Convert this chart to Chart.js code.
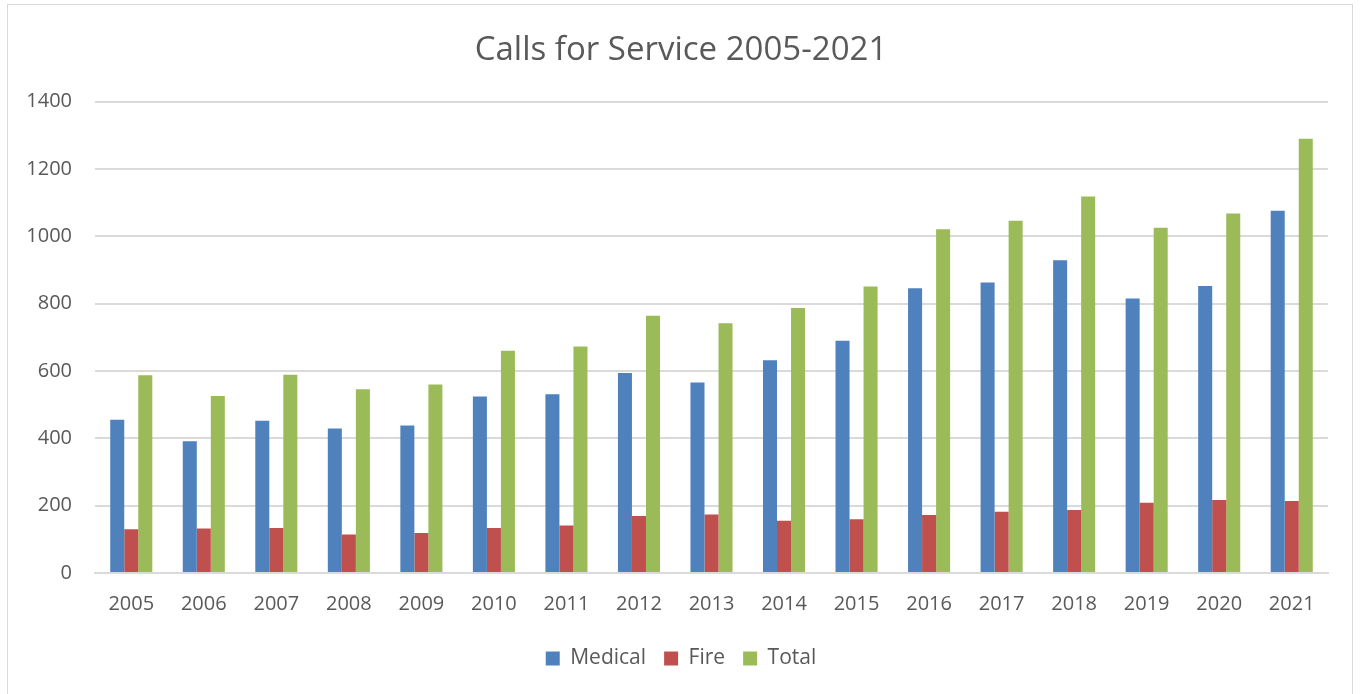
<!DOCTYPE html>
<html>
<head>
<meta charset="utf-8">
<script src="https://cdn.jsdelivr.net/npm/chart.js@4"></script>
<style>
  body { margin: 0; background: #fff; }
  #wrap { position: relative; width: 1360px; height: 694px; }
  #frame { position: absolute; left: 7px; top: 4px; width: 1346px; height: 700px; border: 1px solid #d9d9d9; box-sizing: border-box; }
  canvas { position: absolute; left: 0; top: 0; }
</style>
</head>
<body>
<div id="wrap">
  <div id="frame"></div>
  <canvas id="chart" width="1360" height="694"></canvas>
</div>
<script>
// data
const years = ['2005', '2006', '2007', '2008', '2009', '2010', '2011', '2012', '2013',
  '2014', '2015', '2016', '2017', '2018', '2019', '2020', '2021'];
const medical = [455, 391, 452, 429, 438, 524, 531, 594, 566, 632, 690, 846, 863, 929, 815, 852, 1076];
const fire = [130, 132, 134, 114, 119, 134, 141, 169, 174, 155, 160, 172, 182, 187, 209, 217, 214];
const total = [587, 526, 589, 546, 560, 660, 673, 764, 742, 787, 851, 1021, 1046, 1118, 1025, 1068, 1290];

const FONT = "'Open Sans', sans-serif";
const TEXT = '#595959';
const GRID = '#dadada';

const ctx = document.getElementById('chart');
const chart = new Chart(ctx, {
  type: 'bar',
  data: {
    labels: years,
    datasets: [
      {label: 'Medical', data: medical, backgroundColor: '#4f81bd'},
      {label: 'Fire', data: fire, backgroundColor: '#c0504d'},
      {label: 'Total', data: total, backgroundColor: '#9bbb59'}
    ]
  },
  options: {
    responsive: false,
    animation: false,
    layout: {padding: {left: 2, right: 0, top: 0, bottom: 15}},
    datasets: {
      bar: {barPercentage: 1, categoryPercentage: 0.58}
    },
    scales: {
      x: {
        grid: {display: false, drawTicks: false},
        border: {color: GRID, width: 2},
        ticks: {color: TEXT, font: {family: FONT, size: 20}, padding: 19, maxRotation: 0},
        afterFit: (scale) => { scale.height = 57; }
      },
      y: {
        min: 0,
        max: 1400,
        grid: {color: GRID, lineWidth: 2, drawTicks: false},
        border: {display: false},
        ticks: {
          stepSize: 200,
          color: TEXT,
          font: {family: FONT, size: 20},
          padding: 23,
          callback: (val) => String(val)
        },
        afterFit: (scale) => { scale.width = 93; }
      },
      // empty right-hand axis, only reserves the right margin so title/legend stay centred
      spacer: {
        type: 'linear',
        position: 'right',
        grid: {display: false, drawTicks: false},
        border: {display: false},
        ticks: {display: false},
        afterFit: (scale) => { scale.width = 32; }
      }
    },
    plugins: {
      title: {
        display: true,
        text: 'Calls for Service 2005-2021',
        color: TEXT,
        font: {family: FONT, size: 33, weight: 'normal', lineHeight: 1.2},
        padding: {top: 31, bottom: 31}
      },
      legend: {
        position: 'bottom',
        labels: {
          color: TEXT,
          font: {family: FONT, size: 21},
          boxWidth: 14,
          boxHeight: 14,
          padding: 18
        }
      },
      tooltip: {enabled: false}
    }
  }
});
</script>
</body>
</html>
